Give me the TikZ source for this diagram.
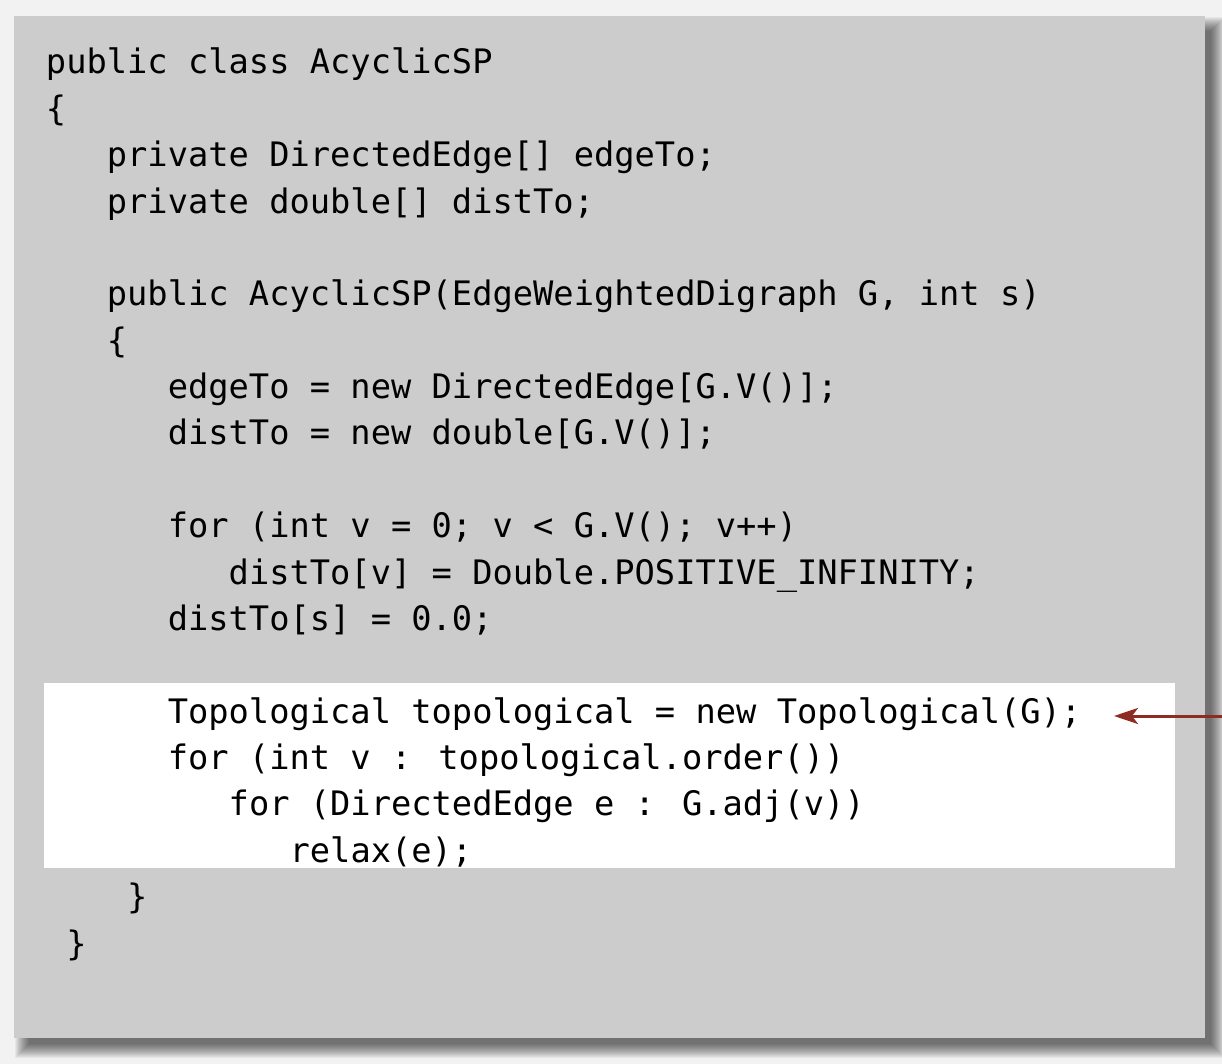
\documentclass[tikz,border=0pt]{standalone}
\usepackage{fontspec}
\newfontfamily\codefont{DejaVu Sans Mono}
\usetikzlibrary{arrows.meta}
\definecolor{pagebg}{HTML}{F2F2F2}
\definecolor{boxgray}{HTML}{CCCCCC}
\definecolor{arrowred}{HTML}{8E2B22}
\tikzset{
  codeline/.style={anchor=base west, inner sep=0pt, outer sep=0pt, font=\codefont\fontsize{16.86}{20}\selectfont, text=black},
  callout/.style={draw=arrowred, line width=1.5pt, -{Stealth[length=12pt,width=8pt,inset=3pt]}}
}
\begin{document}
\begin{tikzpicture}[x=0.5pt,y=-0.5pt]
\useasboundingbox (0,0) rectangle (1222,1064);
\fill[pagebg] (0,0) rectangle (1222,1064);
% shadow
\foreach \k in {14,13,...,0}{
  \fill[black,opacity=0.048] (29-\k,31-\k) rectangle (1211+\k,1044+\k);
}
% main box
\fill[boxgray] (14,16) rectangle (1205,1038);
% highlight
\fill[white] (44,683) rectangle (1175,868);
% code
\def\cw{20.3}
\def\bl#1{74+(#1-1)*46.37}
\node[codeline] (l1) at (46+0*\cw,{\bl{1}}) {public class AcyclicSP};
\node[codeline] (l2) at (46+0*\cw,{\bl{2}}) {\{};
\node[codeline] (l3) at (46+3*\cw,{\bl{3}}) {private DirectedEdge[] edgeTo;};
\node[codeline] (l4) at (46+3*\cw,{\bl{4}}) {private double[] distTo;};
\node[codeline] (l6) at (46+3*\cw,{\bl{6}}) {public AcyclicSP(EdgeWeightedDigraph G, int s)};
\node[codeline] (l7) at (46+3*\cw,{\bl{7}}) {\{};
\node[codeline] (l8) at (46+6*\cw,{\bl{8}}) {edgeTo = new DirectedEdge[G.V()];};
\node[codeline] (l9) at (46+6*\cw,{\bl{9}}) {distTo = new double[G.V()];};
\node[codeline] (l11) at (46+6*\cw,{\bl{11}}) {for (int v = 0; v < G.V(); v++)};
\node[codeline] (l12) at (46+9*\cw,{\bl{12}}) {distTo[v] = Double.POSITIVE\_INFINITY;};
\node[codeline] (l13) at (46+6*\cw,{\bl{13}}) {distTo[s] = 0.0;};
\node[codeline] (l15) at (46+6*\cw,{\bl{15}}) {Topological topological = new Topological(G);};
\node[codeline] (l16) at (46+6*\cw,{\bl{16}}) {for (int v : topological.order())};
\node[codeline] (l17) at (46+9*\cw,{\bl{17}}) {for (DirectedEdge e : G.adj(v))};
\node[codeline] (l18) at (46+12*\cw,{\bl{18}}) {relax(e);};
\node[codeline] (l19) at (46+4*\cw,{\bl{19}}) {\}};
\node[codeline] (l20) at (46+1*\cw,{\bl{20}}) {\}};
% callout arrow
\coordinate (astart) at (1230,716);
\coordinate (atip) at (1114,716);
\draw[callout] (astart) -- (atip);
\end{tikzpicture}
\end{document}
